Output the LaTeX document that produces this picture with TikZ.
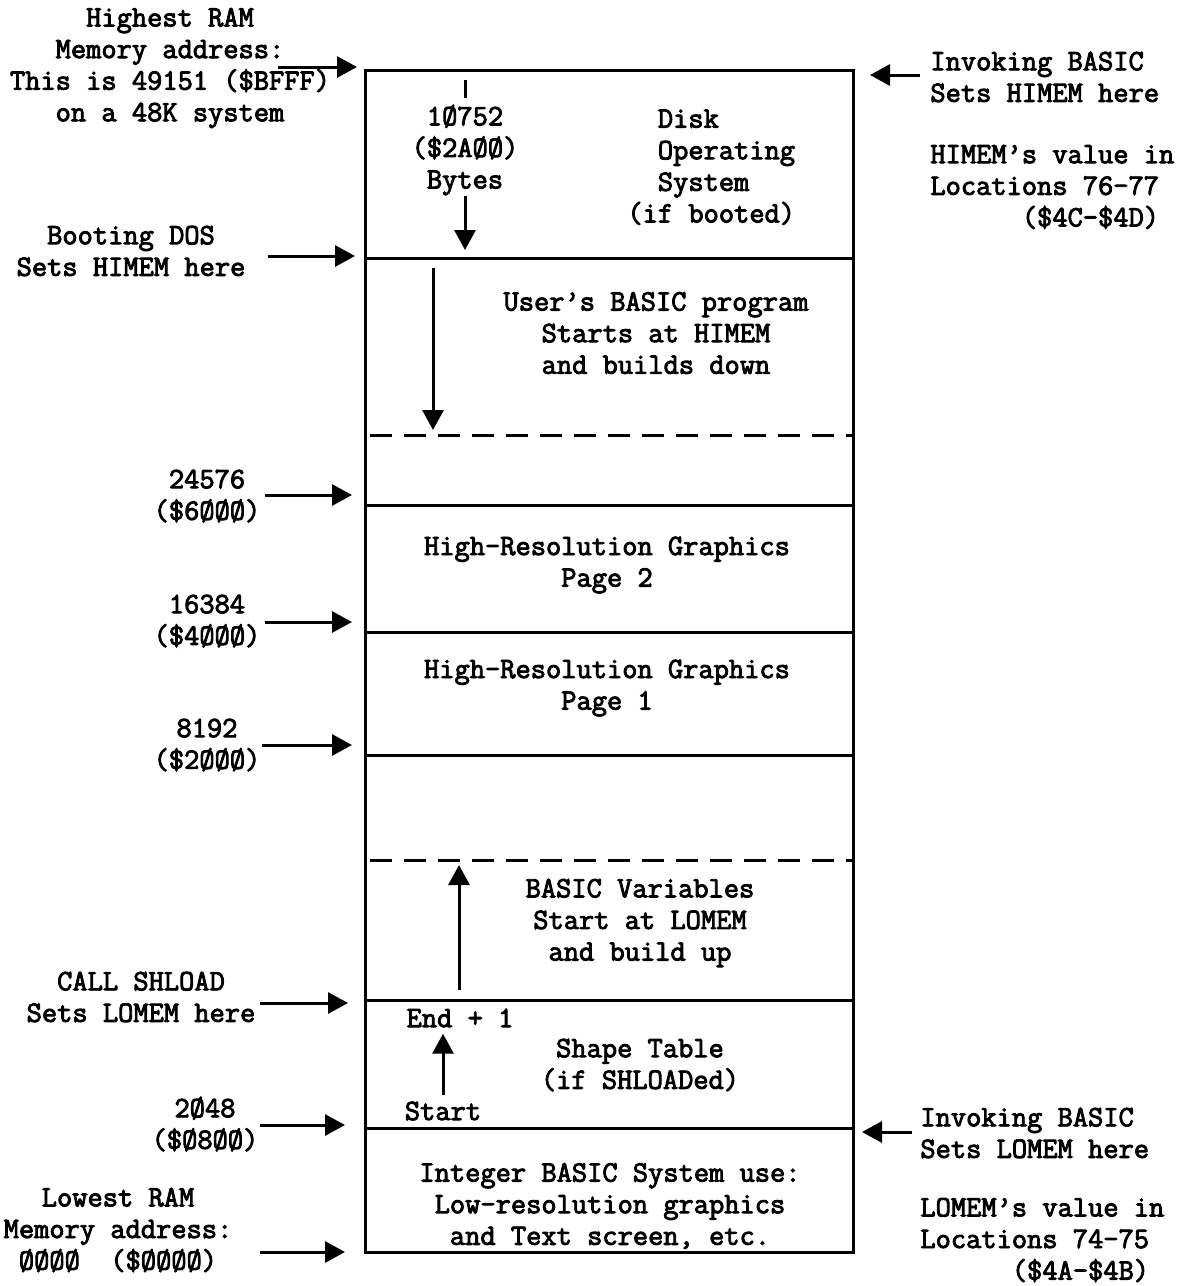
\documentclass[tikz,border=0pt]{standalone}
\usepackage{fontspec}
\newfontfamily\typew{Latin Modern Mono}[FakeBold=3]
\usetikzlibrary{arrows.meta}

\begin{document}
\begin{tikzpicture}[x=0.5pt,y=-0.5pt,
  mem/.style={line width=1.5pt},
  ptr/.style={line width=1.5pt,-{Triangle[length=10pt,width=10.5pt]}},
  lbl/.style={font=\fontsize{14.8}{15.8}\selectfont\typew,align=center,inner sep=0pt},
  lbll/.style={lbl,align=left,anchor=west}]
  \useasboundingbox (0,0) rectangle (1178,1286);
  % the memory map
  \draw[mem] (365,70) rectangle (853,1252);
  \foreach \y in {258,505,632,755,1000,1128} \draw[mem] (365,\y) -- (853,\y);
  \foreach \y in {435,860} \draw[mem,dash pattern=on 11pt off 6pt] (370,\y) -- (853,\y);
  % where the outside arrows point
  \coordinate (p-top) at (357,67); \coordinate (p-dos) at (355,256); \coordinate (p-6000) at (352,495);
  \coordinate (p-4000) at (352,622); \coordinate (p-2000) at (352,745); \coordinate (p-shl) at (348,1003);
  \coordinate (p-0800) at (345,1125); \coordinate (p-low) at (345,1252);
  \coordinate (q-top) at (870,75); \coordinate (q-low) at (862,1132);
  % left labels
  \node[lbl] (hiram) at (170,68) {Highest RAM\\Memory address:\\This is 49151 (\$BFFF)\\on a 48K system};
  \node[lbl] (dosset) at (131,251) {Booting DOS\\Sets HIMEM here};
  \node[lbl] (a6000) at (207,496) {24576\\(\$6ØØØ)};
  \node[lbl] (a4000) at (207,621) {16384\\(\$4ØØØ)};
  \node[lbl] (a2000) at (207,745) {8192\\(\$2ØØØ)};
  \node[lbl] (shload) at (141,997) {CALL SHLOAD\\Sets LOMEM here};
  \node[lbl] (a0800) at (205,1124) {2Ø48\\(\$Ø8ØØ)};
  \node[lbl] (loram) at (118,1230) {Lowest RAM\\Memory address:\\ØØØØ\ \ (\$ØØØØ)};
  \draw[ptr] ([xshift=-39.5pt]p-top) -- (p-top); \draw[ptr] ([xshift=-43.5pt]p-dos) -- (p-dos);
  \draw[ptr] ([xshift=-43.5pt]p-6000) -- (p-6000); \draw[ptr] ([xshift=-43.5pt]p-4000) -- (p-4000);
  \draw[ptr] ([xshift=-45pt]p-2000) -- (p-2000); \draw[ptr] ([xshift=-44pt]p-shl) -- (p-shl);
  \draw[ptr] ([xshift=-42.5pt]p-0800) -- (p-0800); \draw[ptr] ([xshift=-42.5pt]p-low) -- (p-low);
  % right labels
  \node[lbll] (hibasic) at (930,77) {Invoking BASIC\\Sets HIMEM here};
  \node[lbll] (himemloc) at (930,187) {HIMEM’s value in\\Locations 76-77\\\phantom{Locati}(\$4C-\$4D)};
  \node[lbll] (lobasic) at (920,1133) {Invoking BASIC\\Sets LOMEM here};
  \node[lbll] (lomemloc) at (920,1240) {LOMEM’s value in\\Locations 74-75\\\phantom{Locati}(\$4A-\$4B)};
  \draw[ptr] ([xshift=25pt]q-top) -- (q-top); \draw[ptr] ([xshift=25pt]q-low) -- (q-low);
  % inside the map
  \node[lbl] (dossize) at (465,150) {1Ø752\\(\$2AØØ)\\Bytes};
  \coordinate (dostick) at (465,80); \coordinate (dosend) at (465,250);
  \draw[mem] (dostick) -- ([yshift=3pt]dossize.north); \draw[ptr] (dossize.south) -- (dosend);
  \node[lbll] (dos) at (627,166) {\phantom{(i}Disk\\\phantom{(i}Operating\\\phantom{(i}System\\(if booted)};
  \node[lbl] (userprog) at (656,333) {User’s BASIC program\\Starts at HIMEM\\and builds down};
  \coordinate (progtop) at (433,268); \coordinate (progend) at (433,430);
  \draw[ptr] (progtop) -- (progend);
  \node[lbl] (hires2) at (607,565) {High-Resolution Graphics\\Page 2};
  \node[lbl] (hires1) at (607,688) {High-Resolution Graphics\\Page 1};
  \node[lbl] (vars) at (640,923) {BASIC Variables\\Start at LOMEM\\and build up};
  \coordinate (varsbot) at (459,990); \coordinate (varsend) at (459,865);
  \draw[ptr] (varsbot) -- (varsend);
  \node[lbl] (endp) at (460,1018) {End + 1};
  \node[lbl] (startp) at (443,1111) {Start};
  \draw[ptr] ([yshift=3pt]startp.north) -- ([yshift=-3pt]startp.north |- endp.south);
  \node[lbl] (shapes) at (640,1065) {Shape Table\\(if SHLOADed)};
  \node[lbl] (intbasic) at (610,1206) {Integer BASIC System use:\\Low-resolution graphics\\and Text screen, etc.};
\end{tikzpicture}
\end{document}
